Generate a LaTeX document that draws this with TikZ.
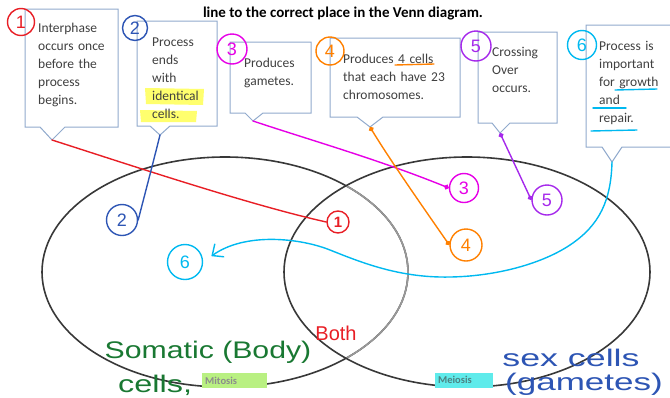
\documentclass[tikz,border=0pt]{standalone}
\usepackage{fontspec}
\newfontfamily\calibri{Carlito}
\newfontfamily\hand{Liberation Sans}
\usepackage{tikz}
\usetikzlibrary{
  arrows.meta,
  positioning,
  calc
}
\definecolor{boxline}{RGB}{145,170,205}
\definecolor{boxtxt}{RGB}{64,64,64}
\definecolor{inkred}{RGB}{232,30,37}
\definecolor{inkblue}{RGB}{45,85,180}
\definecolor{inkmagenta}{RGB}{230,0,230}
\definecolor{inkorange}{RGB}{255,128,0}
\definecolor{inkpurple}{RGB}{165,40,235}
\definecolor{inkcyan}{RGB}{0,185,240}
\definecolor{inkgreen}{RGB}{25,120,50}
\definecolor{hlyellow}{RGB}{255,255,110}
\definecolor{hlgreen}{RGB}{185,240,130}
\definecolor{hlcyan}{RGB}{95,235,235}

\begin{document}
\begin{tikzpicture}[
  x=1pt, y=-1pt,
  callout/.style={draw=boxline, line width=1pt, fill=white},
  box text/.style={anchor=base west, inner sep=0pt, text=boxtxt, align=left,
    text width=#1, font=\calibri\fontsize{13.5}{18}\selectfont},
  ink/.style={line width=1.4pt, line cap=round, line join=round},
  num/.style={circle, draw, ink, inner sep=0pt, font=\hand\fontsize{18}{18}\selectfont},
  hand text/.style={inner sep=0pt, font=\hand\fontsize{24}{24}\selectfont},
  tag/.style={anchor=west, inner xsep=3pt, inner ysep=0pt, minimum height=15pt,
    align=left, font=\calibri\bfseries\fontsize{10.5}{10.5}\selectfont},
  venn/.style={line width=1.6pt, black!78},
]
\clip (0,0) rectangle (670,397);

% Venn diagram
\draw[venn] (225,272) ellipse [x radius=183pt, y radius=115pt];
\begin{scope}
  \clip (467,272) ellipse [x radius=183pt, y radius=115pt];
  \draw[venn, black!40] (225,272) ellipse [x radius=183pt, y radius=115pt];
\end{scope}
\draw[venn] (467,272) ellipse [x radius=183pt, y radius=115pt];

\node[tag, fill=hlgreen, text width=59pt, text=black!45] (mitosis) at (202,380.5) {Mitosis};
\node[tag, fill=hlcyan, text width=52pt, text=teal!60!black!70] (meiosis) at (435,380) {Meiosis};

% Title
\node[inner sep=0pt, anchor=base, font=\calibri\bfseries\fontsize{15}{15}\selectfont]
  (title) at (343,17) {line to the correct place in the Venn diagram.};

% Callout boxes
\draw[callout] (25,9) -- (118,9) -- (118,127) -- (65,127) -- (52,140) -- (40,127) -- (25,127) -- cycle;
\draw[callout] (137,21) -- (217,21) -- (217,126) -- (170,126) -- (160,135) -- (150,126) -- (137,126) -- cycle;
\draw[callout] (230,42) -- (311,42) -- (311,113) -- (263,113) -- (253,121) -- (245,113) -- (230,113) -- cycle;
\draw[callout] (330,38) -- (460,38) -- (460,117) -- (383,117) -- (370,127) -- (357,117) -- (330,117) -- cycle;
\draw[callout] (478,32) -- (557,32) -- (557,123) -- (510,123) -- (500,133) -- (492,123) -- (478,123) -- cycle;
\draw[callout] (586,25) -- (676,25) -- (676,147) -- (622,147) -- (612,162) -- (602,147) -- (586,147) -- cycle;

\coordinate (p1) at (52,140);
\coordinate (p2) at (160,135);
\coordinate (p3) at (253,121);
\coordinate (p4) at (370,127);
\coordinate (p5) at (500,133);
\coordinate (p6) at (612,162);

% Highlighter
\fill[hlyellow] (145,88) -- (204,89) -- (203,105) -- (146,104) -- cycle;
\fill[hlyellow] (140,110) -- (197,111) -- (196,122) -- (141,122) -- cycle;

% Box texts
\node[box text=75pt] (t1) at (38,32) {Interphase\\occurs once\\before the\\process\\begins.};
\node[box text=62pt] (t2) at (152,46) {Process\\ends\\with\\identical\\cells.};
\node[box text=65pt] (t3) at (244,67) {Produces\\gametes.};
\node[box text=125pt] (t4) at (343,63) {Produces 4 cells\\that each have 23\\chromosomes.};
\node[box text=62pt] (t5) at (492,56) {Crossing\\Over\\occurs.};
\node[box text=70pt] (t6) at (599,50) {Process is\\important\\for growth\\and\\repair.};

% Pen underlines
\draw[ink, inkorange] (395,65) -- (434,64);
\draw[ink, inkcyan] (615,90) -- (657,89);
\draw[ink, inkcyan] (593,108) -- (626,108);
\draw[ink, inkcyan] (591,131) -- (637,130);

% Circled numbers on the boxes
\node[num, inkred, minimum size=27pt] (n1) at (21,22) {1};
\node[num, inkblue, minimum size=25pt] (n2) at (135,28) {2};
\node[num, inkmagenta, minimum size=30pt] (n3) at (232,49) {3};
\node[num, inkorange, minimum size=28pt] (n4) at (330,51) {4};
\node[num, inkpurple, minimum size=30pt] (n5) at (476,46) {5};
\node[num, inkcyan, minimum size=29pt] (n6) at (582,45) {6};

% Circled numbers placed in the diagram
\node[num, inkred, minimum size=22pt, font=\hand\bfseries\fontsize{15}{15}\selectfont] (n1b) at (338,222) {1};
\node[num, inkblue, minimum size=31pt] (n2b) at (122,220) {2};
\node[num, inkmagenta, minimum size=29pt] (n3b) at (464,188) {3};
\node[num, inkorange, minimum size=32pt] (n4b) at (466,245) {4};
\node[num, inkpurple, minimum size=30pt] (n5b) at (547,200) {5};
\node[num, inkcyan, minimum size=35pt] (n6b) at (185,262) {6};

% Pen lines from the boxes
\draw[ink, inkred] (p1) .. controls (130,165) and (250,205) .. (n1b.west);
\draw[ink, inkblue] (p2) .. controls (150,175) and (142,205) .. (n2b.east);
\draw[ink, inkmagenta, -{Circle[length=5pt]}]
  (p3) .. controls (310,140) and (380,160) .. (n3b.west);
\draw[ink, inkorange, {Circle[length=5pt]}-{Circle[length=5pt]}]
  (p4) .. controls (390,160) and (425,210) .. (n4b.west);
\draw[ink, inkpurple, {Circle[length=5pt]}-{Circle[length=5pt]}] (p5) -- (n5b.west);
\draw[ink, inkcyan, -{Straight Barb[length=9pt, width=16pt]}, shorten >=10pt]
  (p6) .. controls (611,200) and (600,225) .. (570,245)
  .. controls (540,265) and (490,278) .. (440,277)
  .. controls (395,276) and (360,262) .. (330,250)
  .. controls (300,238) and (245,232) .. (n6b.east);

% Handwritten notes
\node[hand text, text=inkgreen] (somatic) at (208,352) {\scalebox{1.26}[1]{Somatic (Body)}};
\node[hand text, text=inkgreen, anchor=west] (cells) at (118,385) {\scalebox{1.35}[1]{cells,}};
\node[hand text, text=inkred, font=\hand\fontsize{20}{20}\selectfont] (both) at (336,333) {Both};
\node[hand text, text=inkblue] (sexcells) at (571,358) {\scalebox{1.49}[1]{sex cells}};
\node[hand text, text=inkblue] (gametes) at (584,384) {\scalebox{1.46}[1]{(gametes)}};

\end{tikzpicture}
\end{document}
